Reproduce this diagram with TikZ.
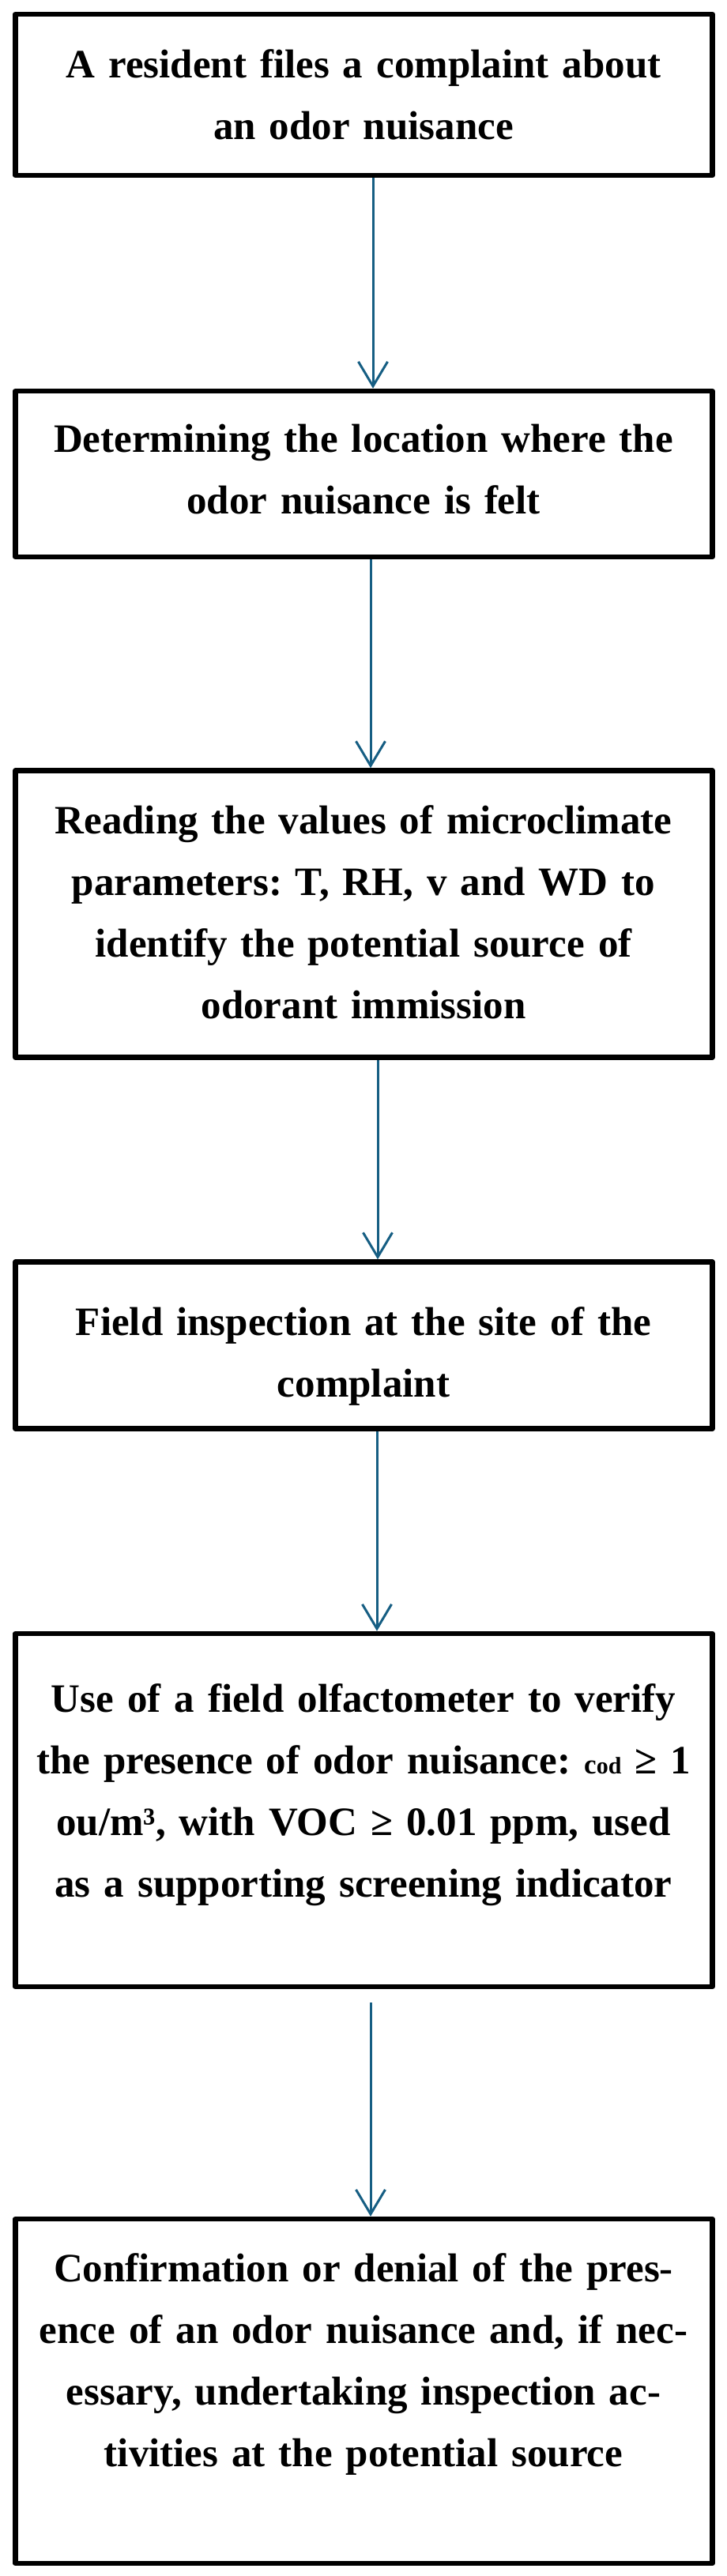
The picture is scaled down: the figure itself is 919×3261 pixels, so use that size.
\documentclass[tikz,border=0pt]{standalone}
\usepackage{fontspec}
\setmainfont{Liberation Serif}
\usetikzlibrary{arrows.meta}
\definecolor{arrowblue}{RGB}{22,94,131}
\frenchspacing
\begin{document}
\begin{tikzpicture}[x=1pt,y=-1pt,
  stepbox/.style={draw=black, line width=6.5pt, minimum width=882pt, inner sep=0pt, line join=round},
  steptext/.style={anchor=base, text width=900pt, align=center, inner sep=0pt, font=\bfseries\fontsize{51}{78}\selectfont\frenchspacing},
  flow/.style={draw=arrowblue, line width=3pt, -{Straight Barb[length=31pt,width=37pt]}}]
\useasboundingbox (0,0) rectangle (919,3261);

% boxes
\node[stepbox, minimum height=204pt] (b1) at (460.5,120) {};
\node[stepbox, minimum height=210pt] (b2) at (460.5,600) {};
\node[stepbox, minimum height=363pt] (b3) at (460.5,1157) {};
\node[stepbox, minimum height=211pt] (b4) at (460.5,1703) {};
\node[stepbox, minimum height=447pt] (b5) at (460.5,2291.5) {};
\node[stepbox, minimum height=436pt] (b6) at (460.5,3027) {};

% texts
\node[steptext] (t1) at (460,98) {A resident files a complaint about\\an odor nuisance};
\node[steptext] (t2) at (460,572) {Determining the location where the\\odor nuisance is felt};
\node[steptext] (t3) at (460,1055) {Reading the values of microclimate\\parameters: T, RH, v and WD to\\identify the potential source of\\odorant immission};
\node[steptext] (t4) at (460,1690) {Field inspection at the site of the\\complaint};
\node[steptext] (t5) at (460,2167) {Use of a field olfactometer to verify\\the presence of odor nuisance: {\fontsize{35}{35}\selectfont c}{\fontsize{30}{30}\selectfont od} ≥ 1\\ou/m³, with VOC ≥ 0.01 ppm, used\\as a supporting screening indicator};
\node[steptext] (t6) at (460,2888) {Confirmation or denial of the pres-\\ence of an odor nuisance and, if nec-\\essary, undertaking inspection ac-\\tivities at the potential source};

% arrow positions
\coordinate (a1x) at (472,0);
\coordinate (a2x) at (469,0);
\coordinate (a3x) at (478,0);
\coordinate (a4x) at (477,0);
\coordinate (a5s) at (469,2535);

\draw[flow] (b1.south -| a1x) -- (b2.north -| a1x);
\draw[flow] (b2.south -| a2x) -- (b3.north -| a2x);
\draw[flow] (b3.south -| a3x) -- (b4.north -| a3x);
\draw[flow] (b4.south -| a4x) -- (b5.north -| a4x);
\draw[flow] (a5s) -- (b6.north -| a5s);
\end{tikzpicture}
\end{document}
